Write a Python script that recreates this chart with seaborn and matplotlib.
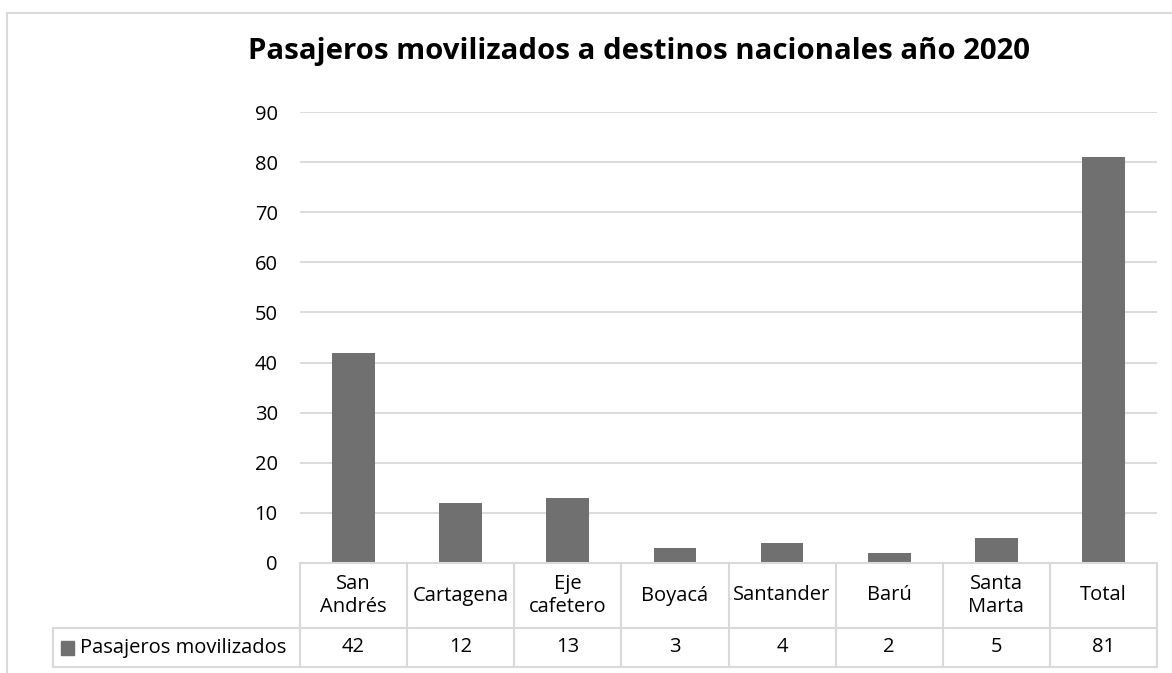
import pandas as pd
import matplotlib.pyplot as plt
import seaborn as sns
from matplotlib.patches import Rectangle

# Data
destinos = ["San\nAndrés", "Cartagena", "Eje\ncafetero", "Boyacá", "Santander",
            "Barú", "Santa\nMarta", "Total"]
pasajeros = [42, 12, 13, 3, 4, 2, 5, 81]
serie = "Pasajeros movilizados"
titulo = "Pasajeros movilizados a destinos nacionales año 2020"

df = pd.DataFrame({"destino": destinos, "pasajeros": pasajeros})

sns.set_theme(style="white")
plt.rcParams['font.family'] = ['Open Sans', 'DejaVu Sans']
plt.rcParams['text.color'] = 'black'

bar_color = "#707070"
line_color = "#d9d9d9"
fs = 14.5

fig = plt.figure(figsize=(11.72, 6.73), dpi=100)
ax = fig.add_axes([300 / 1172, 1 - 563 / 673, 857 / 1172, 451 / 673])

sns.barplot(data=df, x="destino", y="pasajeros", color=bar_color,
            width=0.4, saturation=1, linewidth=0, ax=ax)

ax.set_ylim(0, 90)
ax.set_xlim(-0.5, len(destinos) - 0.5)
ax.set_yticks(range(0, 91, 10))
ax.tick_params(axis="y", length=0, pad=16, labelsize=fs, labelcolor="black")
ax.set_xticks([])
ax.set_xlabel("")
ax.set_ylabel("")
ax.yaxis.grid(True, color=line_color, linewidth=1.3)
ax.set_axisbelow(True)
for s in ax.spines.values():
    s.set_visible(False)

# data table under the plot (x in data units, y in axes fraction)
tr = ax.get_xaxis_transform()
n = len(destinos)
y_top, y_mid, y_bot = 0.0, -65 / 451, -104 / 451
x_leg = -0.5 + (53 - 300) / 107.125
lk = dict(color=line_color, linewidth=1.5, transform=tr, clip_on=False)
ax.plot([-0.5, n - 0.5], [y_top, y_top], **lk)
ax.plot([x_leg, n - 0.5], [y_mid, y_mid], **lk)
ax.plot([x_leg, n - 0.5], [y_bot, y_bot], **lk)
ax.plot([x_leg, x_leg], [y_mid, y_bot], **lk)
for i in range(n + 1):
    ax.plot([i - 0.5, i - 0.5], [y_top, y_bot], **lk)

for i, (d, v) in enumerate(zip(destinos, pasajeros)):
    ax.text(i, (y_top + y_mid) / 2, d, transform=tr, ha="center", va="center",
            fontsize=fs, linespacing=1.2, clip_on=False)
    ax.text(i, (y_mid + y_bot) / 2, str(v), transform=tr, ha="center",
            va="center", fontsize=fs, clip_on=False)

# legend key inside the table
fig.patches.append(Rectangle((61 / 1172, 1 - 655 / 673), 13 / 1172, 14 / 673,
                             transform=fig.transFigure, color=bar_color))
fig.text(80 / 1172, 1 - 648 / 673, serie, ha="left", va="center",
         fontsize=fs)

fig.text(639 / 1172, 1 - 52 / 673, titulo, ha="center", va="center",
         fontsize=21.2, fontweight="bold")

# chart area border (cut off on right and bottom)
fig.patches.append(Rectangle((7 / 1172, -0.1), 1.2, 1 - 13 / 673 + 0.1,
                             transform=fig.transFigure, fill=False,
                             edgecolor=line_color, linewidth=1.5))

fig.savefig("out.png", dpi=100)
